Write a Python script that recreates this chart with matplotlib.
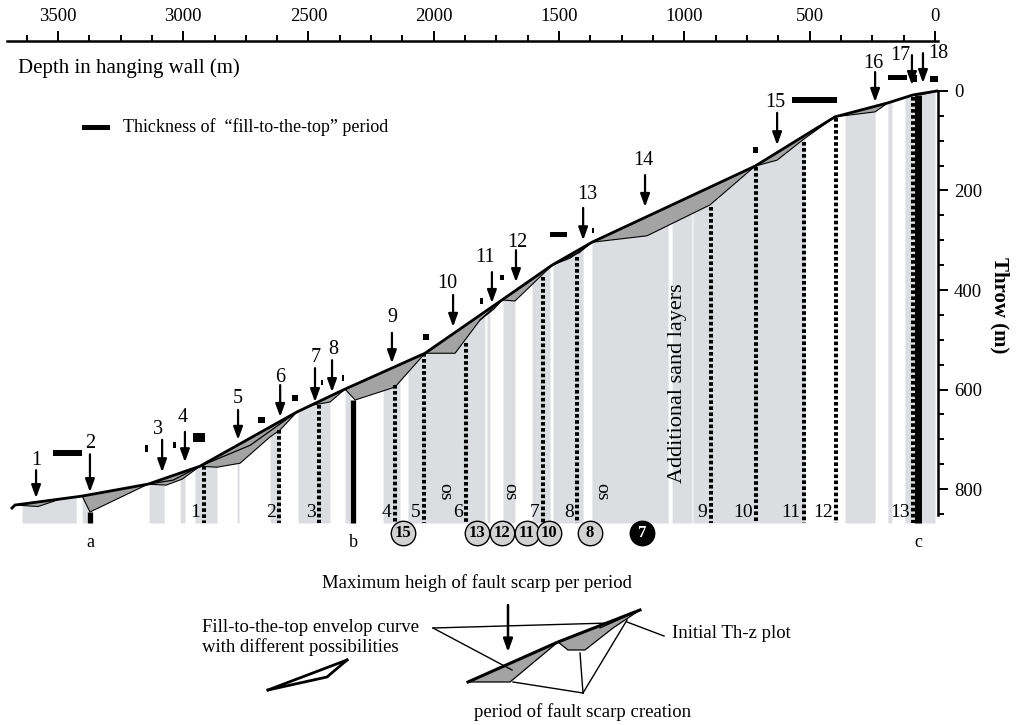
import numpy as np
import matplotlib
matplotlib.use('Agg')
import matplotlib.pyplot as plt
from matplotlib.patches import Rectangle, Polygon
from matplotlib.ticker import FixedLocator

plt.rcParams['font.family'] = ['Liberation Serif', 'DejaVu Serif']

# ---------------- data (depth in m, throw in m) ----------------
env_depth = [3683, 3671, 3403, 3140, 2933, 2546, 2354, 2035, 1728, 1528, 1369, 718, 399, 188, 88, -8]
env_throw = [838, 832, 814, 790, 754, 645, 599, 527, 420, 350, 304, 151, 52, 24, 8, 0]

# lower boundaries of fault-scarp (dark grey) polygons
scarp_lower = [
    [(3671, 832), (3579, 835), (3491, 820)],
    [(3403, 814), (3372, 846), (3140, 790)],
    [(3140, 790), (3068, 792), (3004, 780), (2933, 754)],
    [(2933, 754), (2865, 756), (2773, 748), (2653, 695), (2613, 681), (2546, 645)],
    [(2546, 645), (2482, 631), (2414, 625), (2354, 599)],
    [(2354, 599), (2314, 621), (2155, 595), (2035, 527)],
    [(2035, 527), (1915, 527), (1815, 460), (1728, 420)],
    [(1728, 420), (1676, 422), (1548, 360), (1528, 350)],
    [(1528, 350), (1456, 336), (1369, 304)],
    [(1369, 304), (1149, 291), (898, 229), (718, 151)],
    [(718, 151), (630, 139), (527, 98), (399, 52)],
    [(399, 52), (239, 42), (188, 24)],
    [(88, 8), (40, 6), (-8, 0)],
]
# thin alternative envelope lines (lenses)
lens_lines = [
    [(3140, 790), (3040, 782), (2933, 754)],
    [(2933, 754), (2733, 712), (2546, 645)],
    [(1815, 460), (1760, 438), (1728, 420)],
    [(1528, 350), (1420, 325), (1369, 304)],
]

# light grey sand bands (depth left, depth right)
band_left = [3643, 3403, 3136, 3012, 2953, 2785, 2653, 2542, 2354, 2202, 2103, 1788, 1724, 1608, 1524, 1369, 1049, 966, 359, 188, 120]
band_right = [3427, 3380, 3076, 2993, 2865, 2777, 2613, 2414, 2334, 2135, 1796, 1776, 1676, 1536, 1404, 1065, 970, 519, 239, 172, 0]
band_bottom = 868

# dotted wells
well_labels = ['1', '2', '3', '4', '5', '6', '7', '8', '9', '10', '11', '12', '13']
well_depth = [2917, 2617, 2458, 2155, 2039, 1871, 1564, 1428, 894, 714, 523, 395, 88]
well_top = [754, 681, 631, 591, 527, 507, 374, 334, 233, 153, 103, 54, 12]

# solid wells a, b, c
solid_labels = ['a', 'b', 'c']
solid_depth = [3372, 2322, 68]
solid_top = [846, 621, 8]

# circled numbers
circ_labels = ['15', '13', '12', '11', '10', '8', '7']
circ_depth = [2123, 1827, 1728, 1628, 1540, 1377, 1169]
circ_dark = [False, False, False, False, False, False, True]

os_depth = [1955, 1696, 1329]

# period arrows
per_labels = [str(i) for i in range(1, 19)]
per_depth = [3587, 3372, 3084, 2993, 2781, 2613, 2474, 2406, 2167, 1923, 1768, 1672, 1404, 1157, 630, 239, 92, 48]
per_tail = [762, 730, 701, 685, 641, 591, 557, 541, 486, 410, 364, 320, 235, 169, 44, -38, -72, -76]
per_tip = [818, 806, 766, 746, 701, 655, 625, 605, 547, 474, 426, 384, 300, 233, 109, 22, -12, -16]
per_lab_depth = [3587, 3372, 3100, 3000, 2781, 2613, 2470, 2400, 2167, 1947, 1796, 1668, 1389, 1165, 638, 247, 140, -12]
per_lab_throw = [742, 708, 681, 657, 617, 575, 535, 519, 456, 386, 334, 304, 209, 139, 24, -56, -72, -76]

# fill-to-the-top thickness markers (depth left, depth right, throw top, throw bottom)
thk_dl = [3519, 3152, 3040, 2961, 2701, 2566, 2450, 2366, 2043, 1815, 1736, 1536, 1369, 726, 571, 188, 88, 20]
thk_dr = [3403, 3140, 3028, 2913, 2673, 2542, 2442, 2358, 2019, 1803, 1720, 1468, 1361, 706, 391, 112, 72, -12]
thk_t0 = [722, 712, 706, 687, 655, 611, 581, 571, 488, 416, 370, 283, 275, 113, 12, -32, -32, -30]
thk_t1 = [734, 726, 718, 706, 667, 623, 591, 583, 500, 428, 380, 293, 285, 125, 24, -22, -18, -18]

major_x = list(range(0, 3501, 500))
minor_x = list(range(125, 3626, 125))
major_y = list(range(0, 801, 200))
minor_y = list(range(0, 851, 50))

LIGHT = '#dcdde0'
DARK = '#a3a3a3'

# ---------------- figure ----------------
W, H = 1017, 725
fig = plt.figure(figsize=(W / 100, H / 100), dpi=100)
ax = fig.add_axes([7 / W, 0, 931 / W, (H - 40.7) / H])
ax.set_xlim(3703, -12)
ax.set_ylim(1274, -101)
ax.set_facecolor('none')

ed = np.array(env_depth[::-1], float)
et = np.array(env_throw[::-1], float)

def env(x):
    return np.interp(x, ed, et)

# bands
for l, r in zip(band_left, band_right):
    xs = np.linspace(l, r, 40)
    ax.fill_between(xs, env(xs), band_bottom, color=LIGHT, lw=0, zorder=1)

# scarps
for low in scarp_lower:
    d0, d1 = low[0][0], low[-1][0]
    xs = np.linspace(d1, d0, 30)
    pts = list(low) + list(zip(xs, env(xs)))
    ax.add_patch(Polygon(pts, closed=True, facecolor=DARK, edgecolor='k', lw=0.8, zorder=3))

for ln in lens_lines:
    ax.plot([p[0] for p in ln], [p[1] for p in ln], color='k', lw=0.9, zorder=4)

# envelope
ax.plot(env_depth, env_throw, color='k', lw=2.0, zorder=5, solid_joinstyle='miter')

# dotted wells
for lab, d, t in zip(well_labels, well_depth, well_top):
    ax.plot([d, d], [t, band_bottom], color='k', lw=2.9, linestyle=(0, (0.9, 0.6)), zorder=4)
    ax.annotate(lab, xy=(d, band_bottom), xytext=(-2.5, 1.5), textcoords='offset points',
                ha='right', va='bottom', fontsize=14, zorder=6)

# solid wells
for lab, d, t in zip(solid_labels, solid_depth, solid_top):
    ax.plot([d, d], [t, band_bottom], color='k', lw=5.0 if lab == 'c' else 3.8,
            solid_capstyle='butt', zorder=5)
    ax.text(d, 908, lab, ha='center', va='center', fontsize=13)

# os labels
for d in os_depth:
    ax.text(d, 806, 'os', rotation=270, ha='center', va='center', fontsize=14)

ax.text(1029, 588, 'Additional sand layers', rotation=90, ha='center', va='center', fontsize=16)

# circled numbers
for lab, d, dk in zip(circ_labels, circ_depth, circ_dark):
    ax.scatter([d], [888], s=310, facecolor='k' if dk else '#d2d2d2', edgecolor='k',
               linewidth=1.0, zorder=6, clip_on=False)
    ax.text(d, 888, lab, ha='center', va='center', fontsize=12, fontweight='bold',
            color='w' if dk else 'k', zorder=7)

# period arrows
for lab, d, t0, t1, ld, lt in zip(per_labels, per_depth, per_tail, per_tip, per_lab_depth, per_lab_throw):
    ax.annotate('', xy=(d, t1), xytext=(d, t0),
                arrowprops=dict(arrowstyle='-|>,head_length=0.55,head_width=0.2', lw=1.6,
                                color='k', shrinkA=0, shrinkB=0, mutation_scale=14), zorder=6)
    ax.text(ld, lt, lab, ha='center', va='center', fontsize=14.5, zorder=6)

# thickness markers
for dl, dr, t0, t1 in zip(thk_dl, thk_dr, thk_t0, thk_t1):
    ax.add_patch(Rectangle((dr, t0), dl - dr, t1 - t0, facecolor='k', edgecolor='none', zorder=6))

# axes / spines
for s in ['left', 'bottom']:
    ax.spines[s].set_visible(False)
ax.spines['top'].set_bounds(-12, 3703)
ax.spines['right'].set_bounds(0, 852)
ax.spines['top'].set_linewidth(1.8)
ax.spines['right'].set_linewidth(1.8)
ax.xaxis.set_ticks_position('top')
ax.yaxis.set_ticks_position('right')
ax.xaxis.set_major_locator(FixedLocator(major_x))
ax.xaxis.set_minor_locator(FixedLocator(minor_x))
ax.yaxis.set_major_locator(FixedLocator(major_y))
ax.yaxis.set_minor_locator(FixedLocator(minor_y))
ax.tick_params(axis='both', which='major', direction='out', length=7.5, width=1.4, labelsize=13.5, pad=4)
ax.tick_params(axis='both', which='minor', direction='out', length=4, width=1.4)
ax.tick_params(axis='x', labeltop=True, labelbottom=False)
ax.tick_params(axis='y', labelright=True, labelleft=False)

fig.text(1000 / W, 1 - 305 / H, 'Throw (m)', rotation=270, ha='center', va='center',
         fontsize=15, fontweight='bold')
fig.text(18 / W, 1 - 68 / H, 'Depth in hanging wall (m)', ha='left', va='center', fontsize=15)

# ---------------- legend sketch (pixel coordinates) ----------------
lg = fig.add_axes([0, 0, 1, 1])
lg.set_xlim(0, W)
lg.set_ylim(H, 0)
lg.axis('off')
lg.set_facecolor('none')

leg_rect = (82, 125, 28, 5)
lg.add_patch(Rectangle(leg_rect[:2], leg_rect[2], leg_rect[3], facecolor='k'))
lg.text(123, 127.5, 'Thickness of  \u201cfill-to-the-top\u201d period', ha='left', va='center', fontsize=13)

lg.text(477, 583, 'Maximum heigh of fault scarp per period', ha='center', va='center', fontsize=13.5)
lg.annotate('', xy=(508, 652), xytext=(508, 605),
            arrowprops=dict(arrowstyle='-|>,head_length=0.55,head_width=0.2', lw=1.8,
                            color='k', shrinkA=0, shrinkB=0, mutation_scale=14))
lg.text(202, 637.5, 'Fill-to-the-top envelop curve\nwith different possibilities', ha='left',
        va='center', fontsize=13.5, linespacing=1.15)

ptr_x = [[433, 610], [433, 512], [627, 664], [583, 513], [583, 580], [583, 627]]
ptr_y = [[628, 623], [628, 670], [622, 636], [693, 682], [693, 653], [693, 620]]
for xs, ys in zip(ptr_x, ptr_y):
    lg.plot(xs, ys, color='k', lw=1.0)

lens_x = [[268, 347], [268, 327, 347]]
lens_y = [[690, 660], [690, 677, 660]]
for xs, ys in zip(lens_x, lens_y):
    lg.plot(xs, ys, color='k', lw=2.0)

sk_poly1 = [(468, 682), (510, 682), (558, 642)]
sk_poly2 = [(558, 642), (568, 650), (585, 650), (613, 628), (640, 610)]
lg.add_patch(Polygon(sk_poly1, closed=True, facecolor=DARK, edgecolor='k', lw=0.9))
lg.add_patch(Polygon(sk_poly2, closed=True, facecolor=DARK, edgecolor='k', lw=0.9))
lg.plot([468, 558, 640], [682, 642, 610], color='k', lw=2.2)
lg.plot([600, 640], [628, 610], color='k', lw=0.9)

lg.text(672, 634, 'Initial Th-z plot', ha='left', va='center', fontsize=13.5)
lg.text(583, 712, 'period of fault scarp creation', ha='center', va='center', fontsize=13.5)

fig.savefig('out.png', dpi=100)
